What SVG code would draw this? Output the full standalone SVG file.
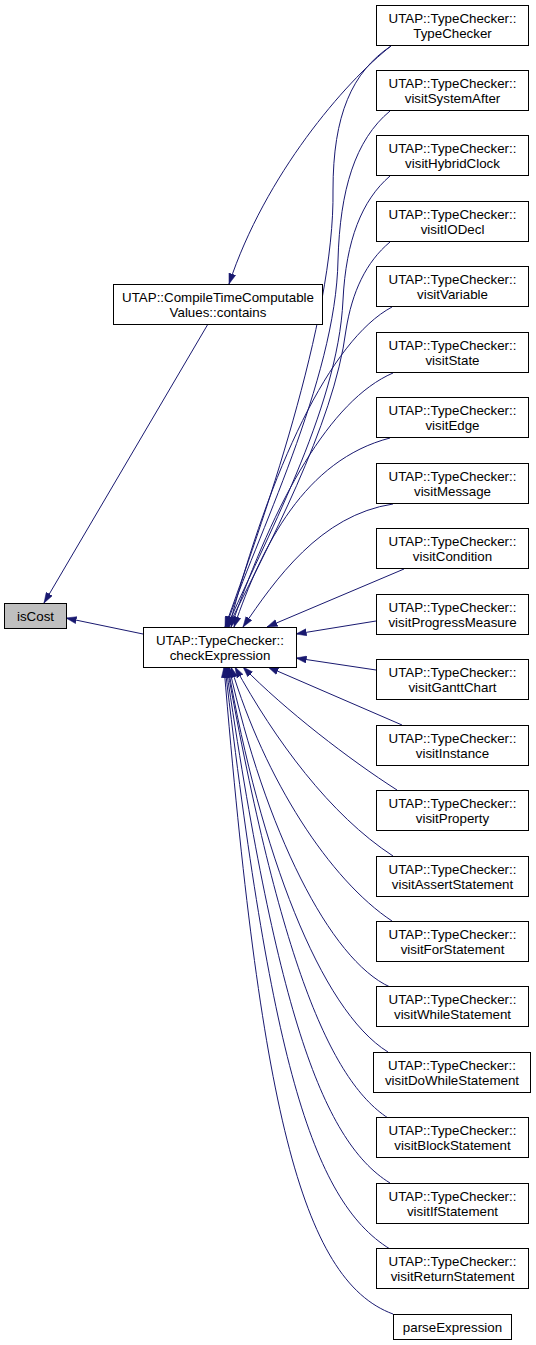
<svg xmlns="http://www.w3.org/2000/svg" width="536" height="1345" viewBox="0 0 536 1345">
<style>
.node rect{fill:#ffffff;stroke:#000000;stroke-width:1}
.node rect.cur{fill:#bfbfbf}
.node text{font-family:"Liberation Sans",Arial,sans-serif;font-size:13.33px;fill:#000000;text-anchor:middle}
.edge path{fill:none;stroke:#191970;stroke-width:1;marker-end:url(#arr)}
</style>
<defs>
<marker id="arr" markerUnits="userSpaceOnUse" markerWidth="11" markerHeight="8" viewBox="0 0 11 8" refX="10.5" refY="4" orient="auto">
<path d="M0,0.5 L10.5,4 L0,7.5 z" fill="#191970" stroke="#191970" stroke-width="0.5"/>
</marker>
</defs>
<rect width="536" height="1345" fill="#ffffff"/>
<g id="edges" class="edge">
<path d="M208,324 L44,603"/>
<path d="M143,634 L66,618"/>
<path d="M391,46 C345,82 265,175 229,284"/>
<path d="M391,46 C352,72 333,115 333,190 C335,320 260,530 225,627"/>
<path d="M390,111 C355,140 340,190 338,260 C336,380 255,540 226,627"/>
<path d="M390,176 C362,200 346,240 343,300 C338,410 262,545 227,627"/>
<path d="M390,242 C366,262 352,292 346,330 C334,425 266,550 228,627"/>
<path d="M392,307 C330,340 270,470 229,627"/>
<path d="M393,373 C330,400 275,500 231,627"/>
<path d="M390,438 C305,460 262,545 234,627"/>
<path d="M393,504 C320,515 275,580 243,627"/>
<path d="M404,569 L267,627"/>
<path d="M376,621 L296,634"/>
<path d="M376,670 L296,658"/>
<path d="M402,725 L268,667"/>
<path d="M397,790 C350,760 285,710 243,667"/>
<path d="M393,856 C330,815 275,740 235,667"/>
<path d="M392,921 C330,880 265,780 231,667"/>
<path d="M390,987 C330,960 265,830 229,667"/>
<path d="M388,1052 C320,1010 260,850 228,667"/>
<path d="M388,1118 C330,1080 280,960 227,667"/>
<path d="M390,1183 C320,1140 275,1000 226,667"/>
<path d="M390,1249 C310,1200 270,1050 225,667"/>
<path d="M393,1314 C300,1280 260,1100 224,667"/>
</g>
<g id="n_isCost" class="node"><rect class="cur" x="4.5" y="603.5" width="62" height="25"/><text x="35.5" y="620.5">isCost</text></g>
<g id="n_checkExpression" class="node"><rect x="143.5" y="627.5" width="153" height="40"/><text x="220" y="645">UTAP::TypeChecker::</text><text x="220" y="660">checkExpression</text></g>
<g id="n_contains" class="node"><rect x="113.5" y="284.5" width="209" height="40"/><text x="218" y="302">UTAP::CompileTimeComputable</text><text x="218" y="317">Values::contains</text></g>
<g id="n_TypeChecker" class="node"><rect x="376.5" y="5.5" width="152" height="40"/><text x="452.5" y="23">UTAP::TypeChecker::</text><text x="452.5" y="38">TypeChecker</text></g>
<g id="n_visitSystemAfter" class="node"><rect x="376.5" y="70.5" width="152" height="40"/><text x="452.5" y="88">UTAP::TypeChecker::</text><text x="452.5" y="103">visitSystemAfter</text></g>
<g id="n_visitHybridClock" class="node"><rect x="376.5" y="135.5" width="152" height="40"/><text x="452.5" y="153">UTAP::TypeChecker::</text><text x="452.5" y="168">visitHybridClock</text></g>
<g id="n_visitIODecl" class="node"><rect x="376.5" y="201.5" width="152" height="40"/><text x="452.5" y="219">UTAP::TypeChecker::</text><text x="452.5" y="234">visitIODecl</text></g>
<g id="n_visitVariable" class="node"><rect x="376.5" y="266.5" width="152" height="40"/><text x="452.5" y="284">UTAP::TypeChecker::</text><text x="452.5" y="299">visitVariable</text></g>
<g id="n_visitState" class="node"><rect x="376.5" y="332.5" width="152" height="40"/><text x="452.5" y="350">UTAP::TypeChecker::</text><text x="452.5" y="365">visitState</text></g>
<g id="n_visitEdge" class="node"><rect x="376.5" y="397.5" width="152" height="40"/><text x="452.5" y="415">UTAP::TypeChecker::</text><text x="452.5" y="430">visitEdge</text></g>
<g id="n_visitMessage" class="node"><rect x="376.5" y="463.5" width="152" height="40"/><text x="452.5" y="481">UTAP::TypeChecker::</text><text x="452.5" y="496">visitMessage</text></g>
<g id="n_visitCondition" class="node"><rect x="376.5" y="528.5" width="152" height="40"/><text x="452.5" y="546">UTAP::TypeChecker::</text><text x="452.5" y="561">visitCondition</text></g>
<g id="n_visitProgressMeasure" class="node"><rect x="376.5" y="594.5" width="152" height="40"/><text x="452.5" y="612">UTAP::TypeChecker::</text><text x="452.5" y="627">visitProgressMeasure</text></g>
<g id="n_visitGanttChart" class="node"><rect x="376.5" y="659.5" width="152" height="40"/><text x="452.5" y="677">UTAP::TypeChecker::</text><text x="452.5" y="692">visitGanttChart</text></g>
<g id="n_visitInstance" class="node"><rect x="376.5" y="725.5" width="152" height="40"/><text x="452.5" y="743">UTAP::TypeChecker::</text><text x="452.5" y="758">visitInstance</text></g>
<g id="n_visitProperty" class="node"><rect x="376.5" y="790.5" width="152" height="40"/><text x="452.5" y="808">UTAP::TypeChecker::</text><text x="452.5" y="823">visitProperty</text></g>
<g id="n_visitAssertStatement" class="node"><rect x="376.5" y="856.5" width="152" height="40"/><text x="452.5" y="874">UTAP::TypeChecker::</text><text x="452.5" y="889">visitAssertStatement</text></g>
<g id="n_visitForStatement" class="node"><rect x="376.5" y="921.5" width="152" height="40"/><text x="452.5" y="939">UTAP::TypeChecker::</text><text x="452.5" y="954">visitForStatement</text></g>
<g id="n_visitWhileStatement" class="node"><rect x="376.5" y="986.5" width="152" height="40"/><text x="452.5" y="1004">UTAP::TypeChecker::</text><text x="452.5" y="1019">visitWhileStatement</text></g>
<g id="n_visitDoWhileStatement" class="node"><rect x="373.5" y="1052.5" width="157" height="40"/><text x="452" y="1070">UTAP::TypeChecker::</text><text x="452" y="1085">visitDoWhileStatement</text></g>
<g id="n_visitBlockStatement" class="node"><rect x="376.5" y="1117.5" width="152" height="40"/><text x="452.5" y="1135">UTAP::TypeChecker::</text><text x="452.5" y="1150">visitBlockStatement</text></g>
<g id="n_visitIfStatement" class="node"><rect x="376.5" y="1183.5" width="152" height="40"/><text x="452.5" y="1201">UTAP::TypeChecker::</text><text x="452.5" y="1216">visitIfStatement</text></g>
<g id="n_visitReturnStatement" class="node"><rect x="376.5" y="1248.5" width="152" height="40"/><text x="452.5" y="1266">UTAP::TypeChecker::</text><text x="452.5" y="1281">visitReturnStatement</text></g>
<g id="n_parseExpression" class="node"><rect x="393.5" y="1314.5" width="118" height="25"/><text x="452.5" y="1331.5">parseExpression</text></g>
</svg>
